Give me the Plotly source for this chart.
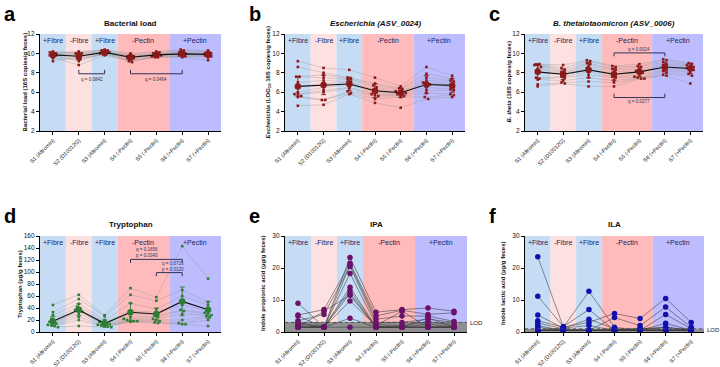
import numpy as np
import plotly.graph_objects as go

W, H = 720, 367
FONT = "Liberation Sans, Arial, sans-serif"

categories = ["S1 (Altromin)", "S2 (D10012G)", "S3 (Altromin)", "S4 (-Pectin)",
              "S5 (-Pectin)", "S6 (+Pectin)", "S7 (+Pectin)"]

# diet phase bands: (label, start category, end category, colour)
phase_labels = ["+Fibre", "-Fibre", "+Fibre", "-Pectin", "+Pectin"]
phase_start = [0, 1, 2, 3, 5]
phase_end = [0, 1, 2, 4, 6]
phase_colors = ["#c6dcf5", "#fde0e0", "#c6dcf5", "#ffbbbb", "#bcbcff"]

# ---- panel a: bacterial load (per timepoint, 12 mice) ----
load_vals = [
    [10.1, 9.9, 9.8, 10.2, 9.6, 9.7, 10.0, 9.2, 9.9, 10.0, 9.8, 9.5],
    [10.0, 9.8, 9.2, 10.1, 8.8, 9.5, 10.0, 9.6, 9.9, 10.2, 9.7, 9.4],
    [10.3, 10.2, 10.0, 10.4, 9.8, 9.9, 10.1, 10.0, 10.2, 10.3, 10.1, 9.9],
    [9.7, 9.5, 9.4, 10.0, 9.2, 9.6, 9.8, 9.1, 9.7, 9.9, 9.5, 9.3],
    [9.9, 10.0, 9.7, 10.2, 9.6, 9.8, 10.0, 9.7, 9.9, 10.1, 9.8, 9.6],
    [10.1, 10.0, 9.8, 10.4, 9.6, 9.9, 10.2, 9.7, 10.0, 10.3, 9.9, 9.7],
    [10.0, 9.9, 9.8, 10.3, 9.3, 9.9, 10.1, 9.6, 10.0, 10.2, 9.8, 9.7],
]
load_mean = [9.85, 9.7, 10.1, 9.6, 9.85, 9.95, 9.9]
load_err = [0.25, 0.35, 0.2, 0.25, 0.2, 0.25, 0.3]

# ---- panel b: Escherichia ----
esch_vals = [
    [9.2, 8.6, 7.6, 7.6, 7.0, 6.6, 6.0, 5.8, 5.8, 5.6, 5.5, 4.6],
    [8.5, 8.0, 7.8, 7.5, 7.2, 6.9, 6.5, 6.2, 6.0, 5.2, 5.2, 4.7],
    [8.3, 7.5, 7.4, 7.3, 7.1, 7.0, 6.8, 6.5, 6.4, 6.1, 5.9, 5.8],
    [7.5, 6.9, 6.7, 6.5, 6.2, 6.1, 6.0, 5.8, 5.7, 5.6, 5.3, 4.9],
    [6.6, 6.4, 6.3, 6.1, 6.0, 5.9, 5.9, 5.8, 5.7, 5.6, 5.5, 4.4],
    [8.6, 7.9, 7.5, 7.2, 7.0, 6.9, 6.8, 6.5, 6.2, 5.9, 5.5, 5.3],
    [7.7, 7.4, 7.2, 7.1, 6.9, 6.7, 6.5, 6.3, 6.2, 5.8, 5.7, 5.5],
]
esch_mean = [6.6, 6.75, 6.85, 6.15, 5.95, 6.8, 6.7]
esch_err = [1.0, 1.0, 0.7, 0.7, 0.5, 0.9, 0.7]

# ---- panel c: B. thetaiotaomicron ----
bth_vals = [
    [8.9, 8.9, 8.8, 8.8, 8.6, 8.4, 8.0, 7.5, 7.4, 7.3, 6.8, 6.6],
    [8.8, 8.5, 8.3, 8.1, 8.0, 7.9, 7.8, 7.6, 7.5, 7.2, 7.0, 6.9],
    [9.3, 9.2, 9.0, 8.9, 8.7, 8.5, 8.3, 8.1, 7.8, 7.5, 7.1, 6.6],
    [8.7, 8.6, 8.4, 8.3, 8.1, 7.9, 7.8, 7.6, 7.5, 7.2, 7.0, 6.6],
    [8.9, 8.7, 8.6, 8.4, 8.2, 8.1, 8.0, 7.8, 7.6, 7.5, 7.4, 7.4],
    [9.4, 9.3, 9.1, 8.9, 8.8, 8.6, 8.5, 8.3, 8.2, 8.0, 7.8, 7.7],
    [9.0, 8.9, 8.8, 8.7, 8.6, 8.5, 8.4, 8.3, 8.1, 7.9, 7.7, 6.9],
]
bth_mean = [8.1, 7.85, 8.3, 7.85, 8.1, 8.6, 8.45]
bth_err = [0.7, 0.55, 0.8, 0.6, 0.5, 0.5, 0.55]

# ---- panel d: tryptophan ----
trp_vals = [
    [45, 33, 28, 22, 18, 17, 15, 14, 12, 11, 10, 8],
    [62, 55, 47, 42, 38, 37, 35, 34, 30, 25, 20, 10],
    [28, 26, 20, 17, 15, 14, 13, 12, 11, 10, 9, 8],
    [73, 62, 48, 35, 30, 25, 22, 20, 19, 18, 18, 17],
    [58, 52, 38, 33, 30, 27, 25, 22, 20, 18, 16, 15],
    [143, 70, 60, 50, 45, 37, 35, 30, 20, 15, 13, 13],
    [89, 50, 45, 38, 35, 32, 30, 28, 27, 25, 20, 10],
]
trp_mean = [18, 37, 14, 33, 30, 51, 37]
trp_err = [8, 10, 6, 15, 10, 24, 14]

# ---- panel e: IPA ----
ipa_vals = [
    [9.0, 5.3, 5.0, 3.5, 2.7, 2.0, 1.5, 1.5, 1.5, 1.5, 3.0, 1.5],
    [1.5, 7.0, 1.5, 5.5, 1.5, 1.5, 1.5, 1.5, 6.5, 1.5, 1.5, 1.5],
    [23.3, 21.5, 21.0, 20.5, 18.3, 14.0, 13.0, 12.0, 11.5, 9.7, 4.3, 1.5],
    [6.2, 5.0, 4.0, 3.0, 2.3, 1.7, 1.5, 1.5, 1.5, 2.0, 1.5, 1.5],
    [7.0, 6.8, 5.0, 3.0, 2.0, 1.5, 1.5, 1.5, 1.5, 6.5, 1.5, 1.5],
    [7.5, 5.5, 5.0, 4.0, 3.3, 2.5, 1.5, 1.5, 4.5, 1.5, 1.5, 1.5],
    [6.5, 6.0, 3.3, 3.0, 2.0, 1.5, 1.5, 1.5, 1.5, 1.5, 1.5, 1.5],
]
ipa_lod = 3.0

# ---- panel f: ILA ----
ila_vals = [
    [23.5, 11.2, 5.3, 3.5, 2.8, 2.0, 1.5, 0.5, 0.5, 0.5, 0.5, 0.5],
    [1.5, 1.7, 1.2, 1.5, 1.0, 0.5, 0.5, 1.2, 0.5, 0.5, 0.5, 0.5],
    [12.7, 7.0, 4.0, 3.0, 0.5, 0.5, 0.5, 2.0, 0.5, 0.5, 0.5, 0.5],
    [1.5, 0.5, 1.0, 5.8, 4.5, 0.5, 0.5, 0.5, 0.5, 1.0, 0.5, 0.5],
    [0.5, 1.2, 0.5, 4.2, 2.0, 0.5, 0.5, 0.5, 0.5, 0.5, 1.0, 0.5],
    [1.5, 0.8, 0.5, 10.5, 7.8, 5.5, 2.7, 0.5, 0.5, 0.5, 1.5, 0.5],
    [0.5, 1.0, 0.5, 3.0, 1.5, 1.0, 0.5, 0.5, 0.5, 0.5, 0.5, 0.5],
]
ila_lod = 1.0

# significance brackets: (panel, from cat, to cat, line y, tick y, text, text y)
brackets = [
    ("a", 1, 2, 7.9, 8.3, "q = 0.0842", 7.35),
    ("a", 3, 5, 7.9, 8.3, "q = 0.0464", 7.35),
    ("c", 3, 5, 10.05, 9.7, "q = 0.0024", 10.4),
    ("c", 3, 5, 5.45, 5.85, "q = 0.0277", 5.0),
    ("d", 3, 5, 121, 115, "q = 0.1656<br>p = 0.0343", 132),
    ("d", 4, 5, 99, 93, "q = 0.0716<br>p = 0.0120", 109),
]

# ---------------- layout geometry (pixels) ----------------
panels = {
    "a": dict(ax=1, x=(40, 221), y=(34, 131), title="<b>Bacterial load</b>",
              ytitle="<b>Bacterial load (16S copies/g feces)</b>", ytx=24,
              yr=(2, 12), dt=2),
    "b": dict(ax=2, x=(285, 465), y=(34, 131), title="<b><i>Escherichia (ASV_0024)</i></b>",
              ytitle="<b><i>Escherichia</i> (LOG<sub>10</sub> 16S copies/g feces)</b>", ytx=268,
              yr=(2, 12), dt=2),
    "c": dict(ax=3, x=(525, 703), y=(34, 131), title="<b><i>B. thetaiotaomicron (ASV_0006)</i></b>",
              ytitle="<b><i>B. theta</i> (16S copies/g feces)</b>", ytx=508,
              yr=(2, 12), dt=2),
    "d": dict(ax=4, x=(40, 221), y=(236, 332), title="<b>Tryptophan</b>",
              ytitle="<b>Tryptophan (µg/g feces)</b>", ytx=20,
              yr=(0, 160), dt=20),
    "e": dict(ax=5, x=(285, 467), y=(236, 332), title="<b>IPA</b>",
              ytitle="<b>Indole propionic acid (µg/g feces)</b>", ytx=263,
              yr=(0, 30), dt=10),
    "f": dict(ax=6, x=(525, 704), y=(236, 332), title="<b>ILA</b>",
              ytitle="<b>Indole lactic acid (µg/g feces)</b>", ytx=503,
              yr=(0, 30), dt=10),
}


def swarm(vals, binw, step):
    vals = np.asarray(vals, dtype=float)
    off = np.zeros(len(vals))
    bins = np.round(vals / binw)
    for b in np.unique(bins):
        idx = np.where(bins == b)[0]
        n = len(idx)
        for k, i in enumerate(idx):
            off[i] = (k - (n - 1) / 2) * step
    return off


fig = go.Figure()
layout = dict(width=W, height=H, margin=dict(l=0, r=0, t=0, b=0, autoexpand=False),
              paper_bgcolor="white", plot_bgcolor="rgba(0,0,0,0)",
              showlegend=False, font=dict(family=FONT, color="#111"))
shapes, annotations = [], []


def axname(n):
    return "" if n == 1 else str(n)


for key, p in panels.items():
    n = p["ax"]
    s = axname(n)
    xd = [p["x"][0] / W, p["x"][1] / W]
    yd = [1 - p["y"][1] / H, 1 - p["y"][0] / H]
    layout["xaxis" + s] = dict(domain=xd, anchor="y" + s, range=[-0.5, 6.5],
                               tickmode="array", tickvals=list(range(7)), ticktext=categories,
                               tickangle=-45, tickfont=dict(size=5.5, family=FONT, color="#111"),
                               showline=True, linecolor="black", linewidth=1.2,
                               ticks="outside", ticklen=3, tickcolor="black",
                               showgrid=False, zeroline=False, fixedrange=True, automargin=False)
    layout["yaxis" + s] = dict(domain=yd, anchor="x" + s, range=list(p["yr"]),
                               tick0=p["yr"][0], dtick=p["dt"],
                               tickfont=dict(size=6.5, family=FONT, color="#111"),
                               showline=True, linecolor="black", linewidth=1.2,
                               ticks="outside", ticklen=3, tickcolor="black",
                               showgrid=False, zeroline=False, fixedrange=True, automargin=False)
    xr = "x" + s
    yr = "y" + s
    # phase bands
    for lab, a0, a1, col in zip(phase_labels, phase_start, phase_end, phase_colors):
        shapes.append(dict(type="rect", xref=xr, yref=yr + " domain", x0=a0 - 0.5, x1=a1 + 0.5,
                           y0=0, y1=1, fillcolor=col, line=dict(width=0), layer="below"))
        annotations.append(dict(xref=xr, yref=yr + " domain", x=(a0 + a1) / 2, y=0.93,
                                text=lab, showarrow=False, font=dict(size=7, color="#1b1f5e"),
                                xanchor="center", yanchor="middle"))
    # title
    annotations.append(dict(xref="paper", yref="paper", x=(p["x"][0] + p["x"][1]) / 2 / W,
                            y=1 - (p["y"][0] - 11) / H, text=p["title"], showarrow=False,
                            font=dict(size=8, color="#111"), xanchor="center", yanchor="middle"))
    # y title
    annotations.append(dict(xref="paper", yref="paper", x=p["ytx"] / W,
                            y=1 - (p["y"][0] + p["y"][1]) / 2 / H, text=p["ytitle"], showarrow=False,
                            textangle=-90, font=dict(size=6, color="#111"),
                            xanchor="center", yanchor="middle"))
    # panel letter
    annotations.append(dict(xref="paper", yref="paper", x=(p["x"][0] - 38) / W,
                            y=1 - (p["y"][0] - 33) / H, text="<b>%s</b>" % key, showarrow=False,
                            font=dict(size=20, color="black"), xanchor="left", yanchor="top"))

# dot-plot panels a-d
dot_panels = [
    ("a", load_vals, load_mean, load_err, "#8b1a1a", 0.15, 0.12),
    ("b", esch_vals, esch_mean, esch_err, "#8b1a1a", 0.3, 0.13),
    ("c", bth_vals, bth_mean, bth_err, "#8b1a1a", 0.3, 0.13),
    ("d", trp_vals, trp_mean, trp_err, "#2e7d32", 5, 0.13),
]
for key, vals, mean, err, col, binw, step in dot_panels:
    s = axname(panels[key]["ax"])
    arr = np.array(vals)  # 7 x 12
    # individual subject lines
    for m in range(arr.shape[1]):
        fig.add_trace(go.Scatter(x=list(range(7)), y=arr[:, m], mode="lines",
                                 line=dict(color="rgba(150,150,150,0.55)", width=0.7),
                                 xaxis="x" + s, yaxis="y" + s, hoverinfo="skip"))
    # jittered points
    xs, ys = [], []
    for c in range(7):
        off = swarm(arr[c], binw, step)
        xs.extend(c + off)
        ys.extend(arr[c])
    fig.add_trace(go.Scatter(x=xs, y=ys, mode="markers",
                             marker=dict(color=col, size=2.6, symbol="square"),
                             xaxis="x" + s, yaxis="y" + s))
    # mean line + error bars
    fig.add_trace(go.Scatter(x=list(range(7)), y=mean, mode="lines+markers",
                             line=dict(color="#111", width=1.1),
                             marker=dict(color=col, size=6.5),
                             error_y=dict(type="data", array=err, color=col, thickness=0.9, width=2.5),
                             xaxis="x" + s, yaxis="y" + s))

# connected panels e-f
for key, vals, lod, col, lodband in [("e", ipa_vals, ipa_lod, "#6b116b", 3.1),
                                     ("f", ila_vals, ila_lod, "#1010b0", 1.0)]:
    s = axname(panels[key]["ax"])
    arr = np.array(vals)
    shapes.append(dict(type="rect", xref="x" + s + " domain", yref="y" + s, x0=0, x1=1,
                       y0=0, y1=lodband, fillcolor="rgba(135,135,135,0.9)", line=dict(width=0),
                       layer="below"))
    shapes.append(dict(type="line", xref="x" + s + " domain", yref="y" + s, x0=0, x1=1,
                       y0=lod, y1=lod, line=dict(color="#444", width=0.8, dash="dot")))
    annotations.append(dict(xref="x" + s + " domain", yref="y" + s, x=1.008, y=lod - 0.3,
                            text="LOD", showarrow=False, font=dict(size=6, color="#111"),
                            xanchor="left", yanchor="middle"))
    for m in range(arr.shape[1]):
        fig.add_trace(go.Scatter(x=list(range(7)), y=arr[:, m], mode="lines",
                                 line=dict(color="rgba(60,60,60,0.8)", width=0.7),
                                 xaxis="x" + s, yaxis="y" + s, hoverinfo="skip"))
    xs, ys = [], []
    for c in range(7):
        xs.extend([c] * arr.shape[1])
        ys.extend(arr[c])
    fig.add_trace(go.Scatter(x=xs, y=ys, mode="markers",
                             marker=dict(color=col, size=5.5),
                             xaxis="x" + s, yaxis="y" + s))

# brackets
for key, c0, c1, ly, ty, txt, tyy in brackets:
    s = axname(panels[key]["ax"])
    shapes.append(dict(type="path", xref="x" + s, yref="y" + s,
                       path="M %f,%f L %f,%f L %f,%f L %f,%f" % (c0, ty, c0, ly, c1, ly, c1, ty),
                       line=dict(color="#333355", width=1)))
    annotations.append(dict(xref="x" + s, yref="y" + s, x=c0 + 0.15 if "<br>" in txt else (c0 + c1) / 2,
                            y=tyy, text=txt, showarrow=False,
                            font=dict(size=4.5, color="#333355"),
                            xanchor="left" if "<br>" in txt else "center", yanchor="middle",
                            align="left"))

layout["shapes"] = shapes
layout["annotations"] = annotations
fig.update_layout(**layout)
fig.write_html("out.html", config={"displayModeBar": False},
               post_script="document.body.style.margin='0';document.body.style.overflow='hidden';")
